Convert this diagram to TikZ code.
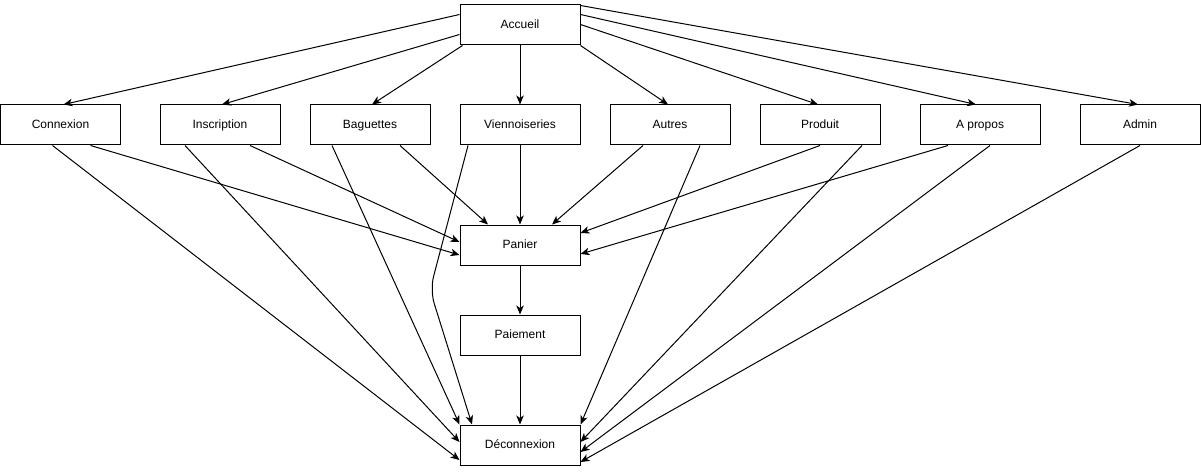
\documentclass[tikz,border=0pt]{standalone}
\usepackage{fontspec}
\setmainfont{Liberation Sans}
\usetikzlibrary{arrows.meta,calc}

\begin{document}
\begin{tikzpicture}[x=1pt,y=-1pt,
  page/.style={draw=black,line width=1pt,fill=white,minimum width=120pt,
    minimum height=40pt,inner sep=0pt,text height=9pt,text depth=2pt,
    font=\fontsize{12pt}{14pt}\selectfont},
  link/.style={draw=black,line width=1pt,
    -{Stealth[length=9pt,width=7.5pt,inset=2.5pt]}}]
  \useasboundingbox (0,0) rectangle (1201,473);

  % pages of the site
  \node[page] (accueil) at (520,25) {Accueil};
  \node[page] (connexion) at (60.5,125) {Connexion};
  \node[page] (inscription) at (220,125) {Inscription};
  \node[page] (baguettes) at (370,125) {Baguettes};
  \node[page] (viennoiseries) at (520,125) {Viennoiseries};
  \node[page] (autres) at (670,125) {Autres};
  \node[page] (produit) at (820,125) {Produit};
  \node[page] (apropos) at (980,125) {A propos};
  \node[page] (admin) at (1140,125) {Admin};
  \node[page] (panier) at (520,245) {Panier};
  \node[page] (paiement) at (520,335) {Paiement};
  \node[page] (deconnexion) at (520,445) {Déconnexion};

  % from the home page
  \draw[link] ($(accueil.north west)+(0,10)$) -- ($(connexion.north)+(3,0)$);
  \draw[link] ($(accueil.north west)+(0,30)$) -- ($(inscription.north)+(2,0)$);
  \draw[link] ($(accueil.south west)+(3,0)$) -- ($(baguettes.north)+(2,0)$);
  \draw[link] (accueil.south) -- (viennoiseries.north);
  \draw[link] (accueil.south east) -- ($(autres.north)+(-2,0)$);
  \draw[link] ($(accueil.north east)+(0,20)$) -- ($(produit.north)+(-2,0)$);
  \draw[link] ($(accueil.north east)+(0,10)$) -- ($(apropos.north)+(-4,0)$);
  \draw[link] ($(accueil.north east)+(0,1)$) -- ($(admin.north)+(-2,0)$);

  % towards the basket
  \draw[link] ($(connexion.south)+(30,0)$) -- ($(panier.west)+(0,10)$);
  \draw[link] ($(inscription.south)+(30,0)$) -- ($(panier.west)+(0,-3)$);
  \draw[link] ($(baguettes.south)+(30,0)$) -- ($(panier.north)+(-32,0)$);
  \draw[link] (viennoiseries.south) -- (panier.north);
  \draw[link] ($(autres.south)+(-27,0)$) -- ($(panier.north)+(32,0)$);
  \draw[link] (produit.south) -- ($(panier.east)+(0,-12)$);
  \draw[link] ($(apropos.south)+(-32,0)$) -- ($(panier.east)+(0,9)$);

  % checkout
  \draw[link] (panier.south) -- (paiement.north);
  \draw[link] (paiement.south) -- (deconnexion.north);

  % towards logout
  \draw[link] ($(connexion.south)+(-8,0)$) -- ($(deconnexion.west)+(0,15)$);
  \draw[link] ($(inscription.south)+(-35,0)$) -- ($(deconnexion.west)+(0,-3)$);
  \draw[link] ($(baguettes.south)+(-38,0)$) -- (deconnexion.north west);
  \coordinate (bend) at (430,290);
  \draw[link,rounded corners=14pt] ($(viennoiseries.south)+(-52,0)$) -- (bend)
    -- ($(deconnexion.north)+(-48,0)$);
  \draw[link] ($(autres.south)+(30,0)$) -- (deconnexion.north east);
  \draw[link] ($(produit.south)+(42,0)$) -- ($(deconnexion.east)+(0,-3)$);
  \draw[link] ($(apropos.south)+(10,0)$) -- ($(deconnexion.east)+(0,7)$);
  \draw[link] (admin.south) -- ($(deconnexion.east)+(0,17)$);
\end{tikzpicture}
\end{document}
